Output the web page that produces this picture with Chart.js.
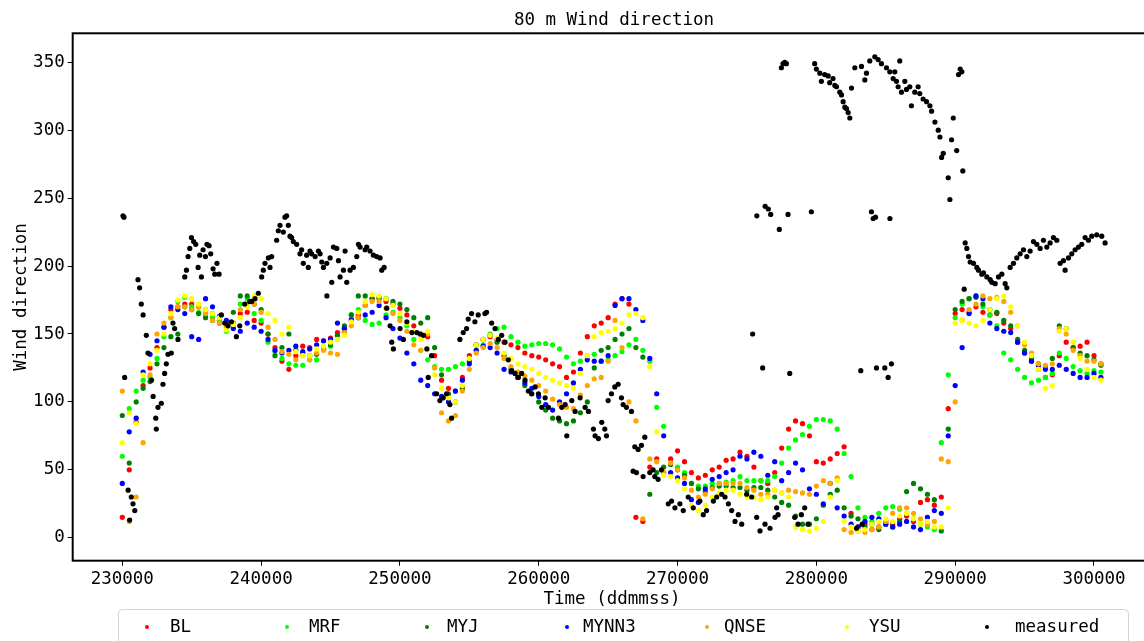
<!DOCTYPE html>
<html>
<head>
<meta charset="utf-8">
<script src="https://cdn.jsdelivr.net/npm/chart.js@4.4.1/dist/chart.umd.min.js"></script>
<style>
  html, body { margin: 0; padding: 0; overflow: hidden; background: #fff; }
  #wrap { width: 1170px; height: 641px; }
</style>
</head>
<body>
<div id="wrap"><canvas id="chart" width="1170" height="641"></canvas></div>
<script>
// model output time stamps (every half hour)
const modelTime = [
  230000,230500,231000,231500,232000,232500,233000,233500,234000,234500,
  235000,235500,236000,236500,237000,237500,238000,238500,239000,239500,
  240000,240500,241000,241500,242000,242500,243000,243500,244000,244500,
  245000,245500,246000,246500,247000,247500,248000,248500,249000,249500,
  250000,250500,251000,251500,252000,252500,253000,253500,254000,254500,
  255000,255500,256000,256500,257000,257500,258000,258500,259000,259500,
  260000,260500,261000,261500,262000,262500,263000,263500,264000,264500,
  265000,265500,266000,266500,267000,267500,268000,268500,269000,269500,
  270000,270500,271000,271500,272000,272500,273000,273500,274000,274500,
  275000,275500,276000,276500,277000,277500,278000,278500,279000,279500,
  280000,280500,281000,281500,282000,282500,283000,283500,284000,284500,
  285000,285500,286000,286500,287000,287500,288000,288500,289000,289500,
  290000,290500,291000,291500,292000,292500,293000,293500,294000,294500,
  295000,295500,296000,296500,297000,297500,298000,298500,299000,299500,
  300000,300500
];

const bl = [
  15,50,85,112,125,140,155,168,170,172,
  172,170,168,165,160,157,158,165,166,160,
  158,150,140,130,124,134,141,140,146,145,
  147,151,154,161,164,171,176,176,174,172,
  169,164,156,150,148,134,116,110,108,118,
  134,142,146,148,146,144,142,140,136,134,
  133,131,128,126,118,122,136,148,156,158,
  162,172,176,172,15,12,52,58,48,58,
  64,56,48,44,46,50,52,57,58,63,
  60,52,42,40,48,66,80,86,84,75,
  56,55,58,62,67,18,8,10,6,8,
  12,10,14,16,12,26,28,24,30,95,
  165,168,166,170,166,164,165,158,154,144,
  136,130,124,118,120,134,144,140,141,144,
  134,128
];

const mrf = [
  60,95,108,116,118,132,148,162,174,177,
  170,166,164,162,160,152,156,172,176,165,
  160,144,137,132,128,127,127,131,131,139,
  141,146,151,164,168,160,157,158,164,166,
  162,156,146,138,131,126,124,124,126,128,
  131,138,142,150,154,155,148,144,141,142,
  143,143,142,139,133,128,130,134,135,130,
  131,134,137,142,146,138,130,96,82,55,
  52,48,40,38,38,40,40,41,42,45,
  42,42,42,42,45,55,66,72,76,82,
  87,87,86,80,62,45,22,15,12,18,
  22,23,21,18,14,10,8,6,70,120,
  162,172,176,178,170,164,156,136,131,124,
  118,114,116,118,121,136,132,126,123,121,
  123,122
];

const myj = [
  90,55,100,110,115,128,140,148,150,170,
  168,165,162,160,158,158,166,178,178,172,
  168,150,134,140,150,138,136,134,135,139,
  142,149,156,164,178,178,176,177,176,174,
  172,168,162,158,162,140,120,106,100,110,
  130,142,146,149,144,134,124,118,112,106,
  100,94,88,86,84,86,92,100,125,138,
  140,146,150,154,140,133,32,48,52,54,
  50,46,40,36,34,37,38,38,37,37,
  35,37,37,35,30,26,24,16,10,10,
  14,24,32,35,22,16,14,8,10,6,
  10,8,12,34,40,36,32,28,5,80,
  168,174,176,177,172,168,166,160,156,146,
  138,132,128,126,132,156,154,140,136,134,
  131,127
];

const mynn3 = [
  40,78,88,122,135,145,155,170,168,165,
  148,146,176,170,163,160,154,152,158,155,
  152,146,138,136,138,141,137,139,142,145,
  146,158,154,160,162,164,166,171,162,154,
  147,136,128,116,112,106,104,100,108,116,
  128,138,141,140,136,124,122,118,114,110,
  104,98,94,100,106,114,124,131,130,130,
  134,171,176,176,168,160,132,106,75,48,
  44,40,28,26,36,43,45,48,50,60,
  58,63,60,46,56,42,48,55,50,36,
  32,25,40,22,16,10,8,12,15,14,
  10,8,10,12,8,6,15,20,18,75,
  112,140,165,178,176,158,154,152,151,144,
  136,130,127,124,124,127,124,121,118,118,
  121,118
];

const qnse = [
  108,12,30,70,120,150,158,162,170,170,
  168,170,165,160,158,155,158,168,172,172,
  166,155,146,137,135,131,134,131,136,138,
  136,135,151,156,162,171,174,174,169,165,
  160,152,142,138,150,125,92,86,90,108,
  124,136,140,143,140,132,126,122,119,116,
  112,108,102,98,96,95,105,112,117,118,
  130,160,140,100,86,14,58,56,48,55,
  50,44,35,30,32,36,40,40,40,40,
  37,35,32,32,35,33,35,34,33,32,
  38,42,40,44,6,4,5,4,6,8,
  12,18,22,22,18,14,10,12,58,56,
  100,160,168,172,178,176,177,174,166,156,
  142,136,128,127,128,154,150,138,134,130,
  130,128
];

const ysu = [
  70,92,84,120,128,138,150,165,175,178,
  176,172,168,165,162,153,157,162,170,178,
  176,165,160,150,155,137,134,134,139,141,
  144,146,149,159,166,174,179,178,176,171,
  165,158,152,146,152,120,110,103,100,112,
  132,142,146,149,147,136,132,128,126,124,
  121,118,116,114,112,110,121,134,148,151,
  152,154,158,164,165,162,126,78,46,45,
  42,36,24,20,24,30,33,35,35,32,
  30,30,28,30,35,33,30,8,6,5,
  7,12,30,42,12,8,5,6,10,12,
  14,12,16,18,14,10,12,8,8,22,
  158,160,158,156,160,168,176,178,170,156,
  144,134,124,110,112,152,154,144,132,124,
  118,116
];

// measured wind direction (irregular, with gaps)
const measTime = [
  230050,230120,230170,230420,230530,230650,230770,230900,231130,231250,
  231370,231500,231730,231850,232100,232220,232410,232450,232570,232810,
  232930,233050,233170,233290,233530,233650,233770,234010,234500,234620,
  234740,234860,234980,235140,235290,235460,235580,235700,235820,235990,
  236100,236250,236370,236540,236660,236820,236970,237140,237380,237620,
  237860,238220,238460,238820,239180,239320,239560,239800,240040,240160,
  240280,240520,240640,240760,241120,241240,241360,241600,241720,241840,
  241960,242080,242200,242320,242560,242800,242920,243040,243280,243400,
  243520,243640,243890,244130,244250,244370,244490,244730,244740,244970,
  245090,245210,245450,245570,245690,245930,246050,246170,246410,246650,
  246890,247010,247130,247490,247610,247850,248090,248330,248570,248690,
  248860,249050,249290,249410,249530,250010,250250,250500,250860,251220,
  251460,251700,251940,252040,252280,252640,252880,253120,253360,253600,
  253720,254320,254560,254800,254920,255160,255400,255640,256120,256240,
  256610,256850,257090,257330,257570,257810,258050,258290,258530,258770,
  259010,259250,259490,259740,259980,260220,260460,260700,261420,261660,
  261900,262020,262380,262620,262980,263340,263580,263940,264060,264300,
  264540,264760,264880,265000,265240,265480,265720,265960,266080,266320,
  266680,266800,266920,267040,267160,267400,267520,267640,268000,268240,
  268360,268600,268840,269330,269570,269810,270170,270410,270770,271130,
  271610,271850,272090,272580,272820,273180,273420,273660,273900,274140,
  274380,274620,274980,275340,275410,275700,275710,275940,276130,276300,
  276310,276540,276660,276710,277020,277140,277240,277330,277480,277600,
  277720,277840,277960,278080,278440,278680,278920,279160,279400,279640,
  279880,280000,280250,280360,280600,280850,280960,281200,281330,281450,
  281690,281810,281930,282050,282170,282290,282410,282530,282770,282890,
  283200,283250,283300,283490,283610,283850,283970,284090,284210,284260,
  284330,284450,284690,284930,285050,285170,285290,285300,285410,285530,
  285650,285770,285890,286010,286130,286370,286490,286730,286850,287090,
  287330,287450,287690,287940,288180,288300,288540,288780,288900,289020,
  289140,289500,289620,289740,289860,290110,290240,290360,290480,290550,
  290650,290720,290840,290960,291080,291320,291560,291680,291920,292040,
  292280,292520,292640,292880,293120,293360,293600,293720,293960,294200,
  294440,294680,294920,295160,295400,295640,295880,296120,296360,296600,
  296840,297080,297320,297560,297800,297920,298160,298400,298640,298880,
  299120,299360,299600,299840,300200,300560,300800
];
const measDir = [
  237,236,118,35,13,30,25,20,190,184,
  172,164,149,136,116,104,88,80,96,99,
  113,121,128,135,136,158,154,146,192,197,
  207,213,221,218,216,199,208,192,212,207,
  216,215,209,198,194,202,194,164,158,156,
  159,148,156,172,174,174,176,180,192,197,
  202,206,199,207,219,226,230,225,236,237,
  230,222,221,218,216,209,212,202,208,199,
  211,209,207,211,209,203,199,202,178,206,
  188,214,213,204,192,197,211,188,197,199,
  207,216,214,212,214,211,208,207,206,197,
  199,169,156,144,139,154,146,159,151,151,
  150,149,139,118,134,106,101,103,106,98,
  88,146,151,154,161,165,159,164,165,166,
  158,154,146,149,144,131,123,121,118,121,
  116,108,106,111,106,96,103,96,88,96,
  98,75,101,93,103,96,93,80,75,73,
  85,80,75,101,106,111,113,103,98,96,
  93,49,67,48,65,68,45,74,48,50,
  45,43,50,25,27,22,25,20,30,22,
  27,17,20,27,30,32,30,25,20,12,
  17,10,32,30,150,15,237,5,125,10,
  244,242,7,238,15,22,17,227,346,349,
  350,349,238,121,15,10,17,22,10,240,
  349,345,342,336,341,340,335,338,333,332,
  328,326,321,317,316,313,309,331,346,7,
  123,347,10,337,342,351,240,235,354,236,
  125,352,349,125,346,118,343,235,128,338,
  343,336,332,351,328,336,330,332,318,328,
  332,327,323,321,318,314,306,300,295,280,
  283,265,249,293,309,285,341,345,343,270,
  183,217,213,207,203,202,199,197,194,195,
  192,190,188,187,192,194,187,184,199,202,
  206,209,212,207,211,218,216,213,219,214,
  217,221,219,202,204,197,206,209,212,214,
  216,221,219,222,223,222,217
];

const seriesNames = ['BL', 'MRF', 'MYJ', 'MYNN3', 'QNSE', 'YSU', 'measured'];
const seriesColors = ['#ff0000', '#00ff00', '#008000', '#0000ff', '#ffa500', '#ffff00', '#000000'];
const xTicks = [230000, 240000, 250000, 260000, 270000, 280000, 290000, 300000];
const yTicks = [0, 50, 100, 150, 200, 250, 300, 350];

const FONT = '"DejaVu Sans Mono", monospace';
const FONT_SIZE = 17.5;

const modelSeries = [bl, mrf, myj, mynn3, qnse, ysu];
const datasets = modelSeries.map((vals, i) => ({
  label: seriesNames[i],
  data: modelTime.map((t, j) => ({ x: t, y: vals[j] })),
  backgroundColor: seriesColors[i],
  pointBorderWidth: 0,
  pointRadius: 2.6,
  order: 6 - i   // later series on top, like the original
}));
datasets.push({
  label: seriesNames[6],
  data: measTime.map((t, j) => ({ x: t, y: measDir[j] })),
  backgroundColor: seriesColors[6],
  pointBorderWidth: 0,
  pointRadius: 2.6,
  order: 0
});

// frame, titles and the boxed legend
const decor = {
  id: 'decor',
  afterDraw(chart) {
    const { ctx, chartArea: a } = chart;
    ctx.save();
    ctx.strokeStyle = '#000';
    ctx.lineWidth = 2;
    ctx.strokeRect(a.left, a.top, a.right - a.left, a.bottom - a.top);

    ctx.fillStyle = '#000';
    ctx.font = FONT_SIZE + 'px ' + FONT;
    ctx.textAlign = 'center';
    ctx.textBaseline = 'middle';
    ctx.fillText('80 m Wind direction', 614, 20);
    ctx.fillText('Time (ddmmss)', 612, 599);
    ctx.save();
    ctx.translate(21, 297);
    ctx.rotate(-Math.PI / 2);
    ctx.fillText('Wind direction', 0, 0);
    ctx.restore();

    // legend box
    ctx.fillStyle = 'rgba(255,255,255,0.8)';
    ctx.strokeStyle = '#d4d4d4';
    ctx.lineWidth = 1;
    ctx.beginPath();
    ctx.roundRect(118.5, 609.5, 1010, 45, 4);
    ctx.fill();
    ctx.stroke();

    const textX = [170, 309, 447, 583, 724, 869, 1015];
    ctx.textAlign = 'left';
    seriesNames.forEach((name, i) => {
      const x = 147 + 140 * i;
      ctx.fillStyle = seriesColors[i];
      ctx.beginPath();
      ctx.arc(x, 627, 2, 0, Math.PI * 2);
      ctx.fill();
      ctx.fillStyle = '#000';
      ctx.fillText(name, textX[i], 627);
    });
    ctx.restore();
  }
};

new Chart(document.getElementById('chart'), {
  type: 'scatter',
  data: { datasets },
  options: {
    responsive: false,
    animation: false,
    devicePixelRatio: 1,
    layout: { padding: { left: 0, top: 33.3, right: 14, bottom: 0 } },
    plugins: {
      legend: { display: false },
      tooltip: { enabled: false },
      title: { display: false }
    },
    scales: {
      x: {
        type: 'linear',
        min: 226427,
        max: 304467,
        afterBuildTicks: s => { s.ticks = xTicks.map(v => ({ value: v })); },
        afterFit: s => { s.height = 80.3; },
        ticks: {
          callback: v => String(v),
          font: { family: FONT, size: FONT_SIZE },
          color: '#000',
          maxRotation: 0,
          autoSkip: false,
          padding: 3
        },
        grid: { drawOnChartArea: false, drawTicks: true, tickLength: 5, tickColor: '#000', tickWidth: 1 },
        border: { display: false }
      },
      y: {
        min: -16.9,
        max: 371.35,
        afterBuildTicks: s => { s.ticks = yTicks.map(v => ({ value: v })); },
        afterFit: s => { s.width = 72.7; },
        ticks: {
          font: { family: FONT, size: FONT_SIZE },
          color: '#000',
          padding: 3
        },
        grid: { drawOnChartArea: false, drawTicks: true, tickLength: 5, tickColor: '#000', tickWidth: 1 },
        border: { display: false }
      }
    }
  },
  plugins: [decor]
});
</script>
</body>
</html>
